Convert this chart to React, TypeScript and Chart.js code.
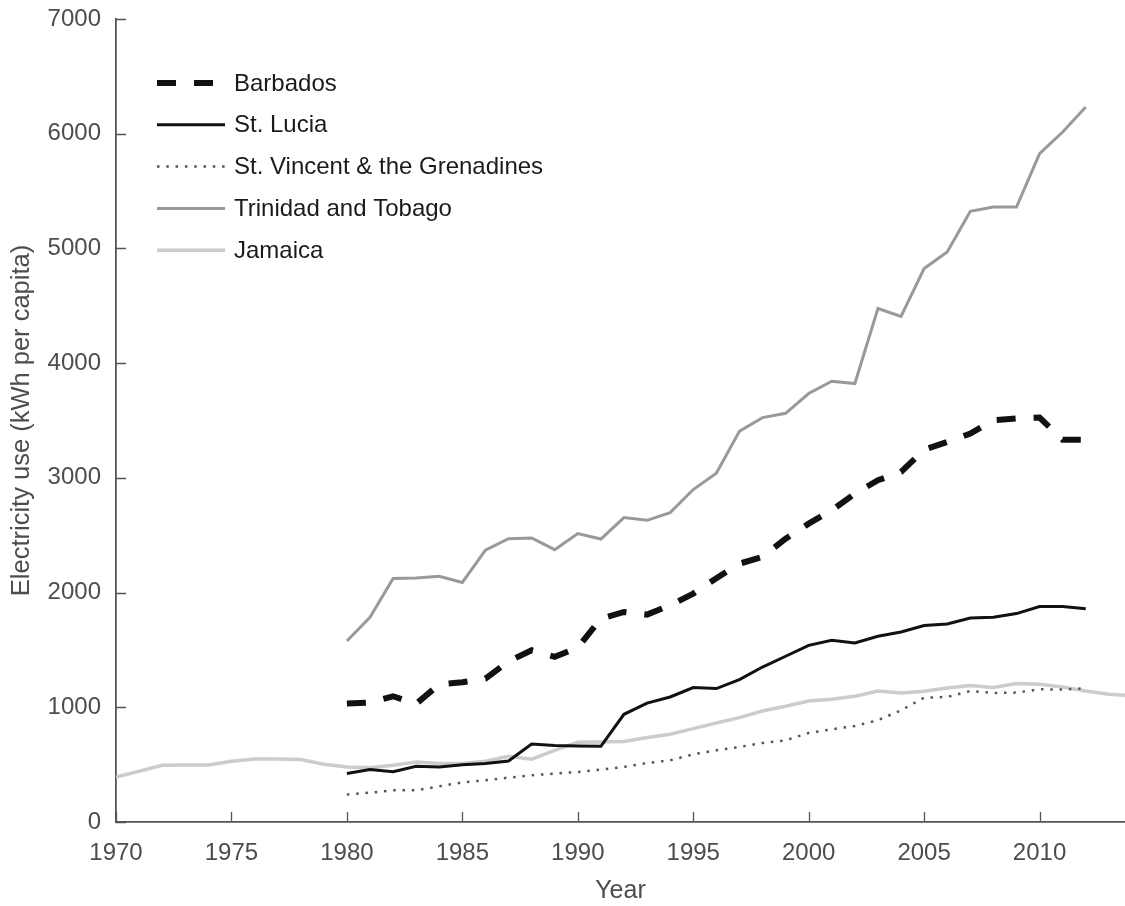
import { useEffect, useRef } from "react";
import { Chart, registerables } from "chart.js";

Chart.register(...registerables);

// Years covered by each series
const jamaicaYears = [
  1970, 1971, 1972, 1973, 1974, 1975, 1976, 1977, 1978, 1979,
  1980, 1981, 1982, 1983, 1984, 1985, 1986, 1987, 1988, 1989,
  1990, 1991, 1992, 1993, 1994, 1995, 1996, 1997, 1998, 1999,
  2000, 2001, 2002, 2003, 2004, 2005, 2006, 2007, 2008, 2009,
  2010, 2011, 2012, 2013, 2014,
];
const islandYears = [
  1980, 1981, 1982, 1983, 1984, 1985, 1986, 1987, 1988, 1989,
  1990, 1991, 1992, 1993, 1994, 1995, 1996, 1997, 1998, 1999,
  2000, 2001, 2002, 2003, 2004, 2005, 2006, 2007, 2008, 2009,
  2010, 2011, 2012,
];

// Electricity use, kWh per capita
const barbados = [
  1032, 1040, 1096, 1030, 1200, 1218, 1250, 1400, 1497, 1440,
  1520, 1773, 1831, 1808, 1889, 1991, 2125, 2252, 2310, 2470,
  2601, 2717, 2863, 2979, 3051, 3246, 3313, 3386, 3502, 3517,
  3525, 3333, 3333,
];
const stLucia = [
  422, 457, 439, 486, 480, 500, 509, 532, 680, 666,
  663, 660, 939, 1037, 1090, 1172, 1163, 1241, 1351, 1445,
  1540, 1584, 1561, 1619, 1656, 1712, 1726, 1778, 1784, 1817,
  1878, 1878, 1860,
];
const stVincent = [
  239, 256, 276, 276, 311, 345, 364, 387, 407, 422,
  436, 457, 480, 514, 538, 590, 625, 654, 689, 712,
  776, 808, 837, 887, 974, 1084, 1090, 1142, 1125, 1128,
  1157, 1154, 1166,
];
const trinidad = [
  1578, 1785, 2123, 2127, 2142, 2088, 2369, 2470, 2476, 2374,
  2514, 2467, 2654, 2630, 2697, 2898, 3040, 3406, 3525, 3563,
  3735, 3842, 3822, 4476, 4408, 4824, 4969, 5324, 5361, 5361,
  5827, 6015, 6233,
];
const jamaica = [
  392, 442, 494, 497, 497, 529, 549, 549, 544, 503,
  480, 474, 494, 523, 509, 510, 529, 573, 547, 625,
  695, 697, 701, 736, 765, 814, 863, 910, 968, 1009,
  1055, 1070, 1096, 1142, 1125, 1139, 1168, 1189, 1172, 1207,
  1200, 1177, 1142, 1113, 1100,
];

const seriesNames = [
  "Barbados",
  "St. Lucia",
  "St. Vincent & the Grenadines",
  "Trinidad and Tobago",
  "Jamaica",
];

// Axis ticks
const xTickValues = [1970, 1975, 1980, 1985, 1990, 1995, 2000, 2005, 2010];
const yTickValues = [0, 1000, 2000, 3000, 4000, 5000, 6000, 7000];

const FONT = "'Liberation Sans', Arial, Helvetica, sans-serif";
const AXIS_COLOR = "#555555";
const LABEL_COLOR = "#4d4d4d";
const LEGEND_COLOR = "#1a1a1a";

const toPoints = (xs: number[], ys: number[]) =>
  ys.map((y, i) => ({ x: xs[i], y }));

// Tick marks pointing into the plot area
const inwardTicks = {
  id: "inwardTicks",
  afterDraw(chart: any) {
    const { ctx, chartArea, scales } = chart;
    ctx.save();
    ctx.strokeStyle = AXIS_COLOR;
    ctx.lineWidth = 1.3;
    ctx.beginPath();
    scales.x.ticks.forEach((t: any) => {
      const px = Math.round(scales.x.getPixelForValue(t.value)) + 0.5;
      ctx.moveTo(px, chartArea.bottom);
      ctx.lineTo(px, chartArea.bottom - 10);
    });
    scales.y.ticks.forEach((t: any) => {
      const py = Math.round(scales.y.getPixelForValue(t.value)) + 0.5;
      ctx.moveTo(chartArea.left, py);
      ctx.lineTo(chartArea.left + 10, py);
    });
    ctx.stroke();
    ctx.restore();
  },
};

// Legend with line samples, drawn inside the upper-left of the plot
const lineLegend = {
  id: "lineLegend",
  afterDraw(chart: any) {
    const { ctx, chartArea } = chart;
    const x0 = chartArea.left + 41;
    const x1 = chartArea.left + 109;
    const textX = chartArea.left + 118;
    const y0 = chartArea.top + 64;
    const rowGap = 41.8;
    ctx.save();
    ctx.font = `24px ${FONT}`;
    ctx.textBaseline = "middle";
    ctx.textAlign = "left";
    chart.data.datasets.forEach((ds: any, i: number) => {
      const y = y0 + i * rowGap;
      ctx.beginPath();
      ctx.strokeStyle = ds.borderColor;
      ctx.lineWidth = ds.borderWidth;
      ctx.lineCap = "butt";
      ctx.setLineDash(ds.borderDash || []);
      ctx.moveTo(x0, y);
      ctx.lineTo(x1, y);
      ctx.stroke();
      ctx.setLineDash([]);
      ctx.fillStyle = LEGEND_COLOR;
      ctx.fillText(ds.label, textX, y + 1);
    });
    ctx.restore();
  },
};

export default function App() {
  const canvasRef = useRef<HTMLCanvasElement | null>(null);

  useEffect(() => {
    const canvas = canvasRef.current;
    if (!canvas) return;
    const chart = new Chart(canvas, {
      type: "line",
      data: {
        datasets: [
          {
            label: seriesNames[0],
            data: toPoints(islandYears, barbados),
            borderColor: "#111111",
            borderWidth: 6,
            borderDash: [19, 18],
          },
          {
            label: seriesNames[1],
            data: toPoints(islandYears, stLucia),
            borderColor: "#111111",
            borderWidth: 3,
          },
          {
            label: seriesNames[2],
            data: toPoints(islandYears, stVincent),
            borderColor: "#555555",
            borderWidth: 2.5,
            borderDash: [2.5, 6.8],
          },
          {
            label: seriesNames[3],
            data: toPoints(islandYears, trinidad),
            borderColor: "#999999",
            borderWidth: 3,
          },
          {
            label: seriesNames[4],
            data: toPoints(jamaicaYears, jamaica),
            borderColor: "#cccccc",
            borderWidth: 3.5,
          },
        ],
      },
      options: {
        animation: false,
        responsive: false,
        layout: { padding: { top: 19, right: 0, left: 0, bottom: 0 } },
        elements: {
          point: { radius: 0, hoverRadius: 0 },
          line: { tension: 0, borderCapStyle: "butt", borderJoinStyle: "miter" },
        },
        plugins: {
          legend: { display: false },
          tooltip: { enabled: false },
        },
        scales: {
          x: {
            type: "linear",
            min: 1970,
            max: 2013.7,
            afterBuildTicks: (scale: any) => {
              scale.ticks = xTickValues.map((v) => ({ value: v }));
            },
            afterFit: (scale: any) => {
              scale.height = 84;
              scale.paddingLeft = 0;
              scale.paddingRight = 0;
            },
            grid: { display: true, drawOnChartArea: false, drawTicks: false },
            border: { display: true, color: AXIS_COLOR, width: 1.8 },
            ticks: {
              color: LABEL_COLOR,
              font: { family: FONT, size: 24 },
              padding: 17,
              maxRotation: 0,
              autoSkip: false,
              callback: (v: any) => String(v),
            },
            title: {
              display: true,
              text: "Year",
              color: LABEL_COLOR,
              font: { family: FONT, size: 25 },
              padding: { top: 0, bottom: 0 },
            },
          },
          y: {
            type: "linear",
            min: 0,
            max: 7000,
            afterBuildTicks: (scale: any) => {
              scale.ticks = yTickValues.map((v) => ({ value: v }));
            },
            afterFit: (scale: any) => {
              scale.width = 116;
              scale.paddingTop = 0;
              scale.paddingBottom = 0;
            },
            grid: { display: true, drawOnChartArea: false, drawTicks: false },
            border: { display: true, color: AXIS_COLOR, width: 1.8 },
            ticks: {
              color: LABEL_COLOR,
              font: { family: FONT, size: 24 },
              padding: 15,
              autoSkip: false,
              callback: (v: any) => String(v),
            },
            title: {
              display: true,
              text: "Electricity use (kWh per capita)",
              color: LABEL_COLOR,
              font: { family: FONT, size: 25.5 },
              padding: { top: 7, bottom: 0 },
            },
          },
        },
      },
      plugins: [inwardTicks, lineLegend],
    });
    return () => chart.destroy();
  }, []);

  return (
    <div style={{ position: "absolute", left: 0, top: 0, width: 1125, height: 906, background: "#ffffff" }}>
      <canvas ref={canvasRef} width={1125} height={906} style={{ display: "block" }} />
    </div>
  );
}
